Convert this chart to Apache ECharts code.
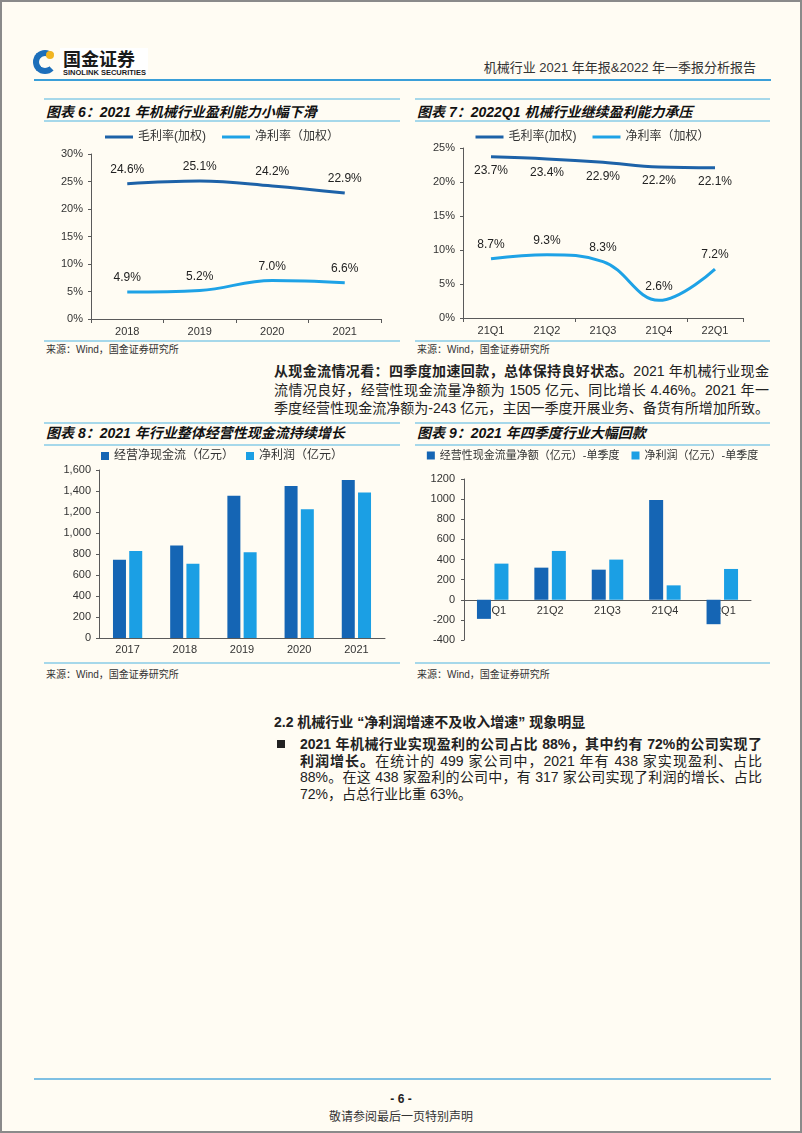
<!DOCTYPE html>
<html>
<head>
<meta charset="utf-8">
<script src="https://cdn.jsdelivr.net/npm/echarts@6/dist/echarts.min.js"></script>
<style>
  html, body { margin: 0; padding: 0; }
  body { width: 802px; height: 1133px; overflow: hidden; }
  #page {
    position: relative; width: 802px; height: 1133px; box-sizing: border-box;
    border: 2px solid #8a8a8a; background: #fffcf3;
    font-family: "Liberation Sans", "Noto Sans CJK SC", sans-serif; color: #222;
  }
  .abs { position: absolute; }
  .rule { position: absolute; height: 2px; background: #a6d8ea; }
  .ctitle { position: absolute; font-size: 14px; font-weight: bold; font-style: italic; line-height: 18px; white-space: nowrap; color: #111; }
  .src { position: absolute; font-size: 10px; line-height: 12px; color: #333; white-space: nowrap; }
  .chart { position: absolute; }
  .para { position: absolute; font-size: 14px; color: #222; }
  .para div { text-align: justify; text-align-last: justify; white-space: nowrap; }
  .para div.last { text-align-last: left; }
</style>
</head>
<body>
<div id="page">
  <!-- 页眉 -->
  <div class="abs" style="left:58px;top:46px;width:88px;height:27px;background:#fff;"></div>
  <div class="abs" style="left:31px;top:48px;width:12px;height:12px;border:6px solid #1d6fba;border-radius:50%;border-right-color:transparent;"></div>
  <div class="abs" style="left:44px;top:49px;width:8px;height:8px;background:#f2b51f;border-radius:50%;"></div>
  <div class="abs" style="left:61px;top:46px;font-size:18px;font-weight:bold;line-height:21px;color:#1a1a1a;font-family:'Noto Sans CJK SC';">国金证券</div>
  <div class="abs" style="left:61px;top:66px;font-size:7.5px;font-weight:bold;line-height:9px;color:#1a1a1a;white-space:nowrap;">SINOLINK SECURITIES</div>
  <div class="abs" style="right:44px;top:58px;font-size:13px;line-height:16px;color:#333;white-space:nowrap;">机械行业 2021 年年报&amp;2022 年一季报分析报告</div>
  <div class="abs" style="left:32px;top:77px;width:737px;height:2px;background:#3a9fd8;"></div>

  <!-- 图表6 / 图表7 -->
  <div class="rule" style="left:42px;top:96px;width:356px;"></div>
  <div class="rule" style="left:413px;top:96px;width:355px;"></div>
  <div class="ctitle" style="left:44px;top:101px;">图表 6：2021 年机械行业盈利能力小幅下滑</div>
  <div class="ctitle" style="left:415px;top:101px;">图表 7：2022Q1 机械行业继续盈利能力承压</div>
  <div class="rule" style="left:42px;top:118px;width:356px;"></div>
  <div class="rule" style="left:413px;top:118px;width:355px;"></div>
  <div id="c6" class="chart" style="left:42px;top:120px;width:356px;height:217px;"></div>
  <div id="c7" class="chart" style="left:413px;top:120px;width:355px;height:217px;"></div>
  <div class="rule" style="left:42px;top:338px;width:356px;"></div>
  <div class="rule" style="left:413px;top:338px;width:355px;"></div>
  <div class="src" style="left:44px;top:342px;">来源：Wind，国金证券研究所</div>
  <div class="src" style="left:415px;top:342px;">来源：Wind，国金证券研究所</div>

  <!-- 正文 -->
  <div class="para" style="left:272px;top:360px;width:495px;line-height:18.5px;">
    <div><b>从现金流情况看：四季度加速回款，总体保持良好状态。</b>2021 年机械行业现金</div>
    <div>流情况良好，经营性现金流量净额为 1505 亿元、同比增长 4.46%。2021 年一</div>
    <div>季度经营性现金流净额为-243 亿元，主因一季度开展业务、备货有所增加所致。</div>
  </div>

  <!-- 图表8 / 图表9 -->
  <div class="rule" style="left:42px;top:420px;width:356px;"></div>
  <div class="rule" style="left:413px;top:420px;width:355px;"></div>
  <div class="ctitle" style="left:44px;top:422px;">图表 8：2021 年行业整体经营性现金流持续增长</div>
  <div class="ctitle" style="left:415px;top:422px;">图表 9：2021 年四季度行业大幅回款</div>
  <div class="rule" style="left:42px;top:442px;width:356px;"></div>
  <div class="rule" style="left:413px;top:442px;width:355px;"></div>
  <div id="c8" class="chart" style="left:42px;top:444px;width:356px;height:216px;"></div>
  <div id="c9" class="chart" style="left:413px;top:444px;width:355px;height:216px;"></div>
  <div class="rule" style="left:42px;top:660px;width:356px;"></div>
  <div class="rule" style="left:413px;top:660px;width:355px;"></div>
  <div class="src" style="left:44px;top:667px;">来源：Wind，国金证券研究所</div>
  <div class="src" style="left:415px;top:667px;">来源：Wind，国金证券研究所</div>

  <!-- 2.2 -->
  <div class="abs" style="left:272px;top:711px;font-size:14px;font-weight:bold;line-height:18px;white-space:nowrap;">2.2 机械行业 “净利润增速不及收入增速” 现象明显</div>
  <div class="abs" style="left:275px;top:738px;width:8px;height:8px;background:#222;"></div>
  <div class="para" style="left:298px;top:734px;width:462px;line-height:16.5px;">
    <div><b>2021 年机械行业实现盈利的公司占比 88%，其中约有 72%的公司实现了</b></div>
    <div><b>利润增长。</b>在统计的 499 家公司中，2021 年有 438 家实现盈利、占比</div>
    <div>88%。在这 438 家盈利的公司中，有 317 家公司实现了利润的增长、占比</div>
    <div class="last">72%，占总行业比重 63%。</div>
  </div>

  <!-- 页脚 -->
  <div class="abs" style="left:32px;top:1076px;width:737px;height:2px;background:#7fc0e3;"></div>
  <div class="abs" style="left:0;width:798px;top:1090px;text-align:center;font-size:12px;font-weight:bold;line-height:14px;">- 6 -</div>
  <div class="abs" style="left:0;width:798px;top:1108px;text-align:center;font-size:12px;line-height:14px;color:#333;">敬请参阅最后一页特别声明</div>
</div>

<script>
// 图表6 数据
const years6 = ['2018', '2019', '2020', '2021']
const gross6 = [24.6, 25.1, 24.2, 22.9]
const net6 = [4.9, 5.2, 7.0, 6.6]
// 图表7 数据
const quarters7 = ['21Q1', '21Q2', '21Q3', '21Q4', '22Q1']
const gross7 = [23.7, 23.4, 22.9, 22.2, 22.1]
const net7 = [8.7, 9.3, 8.3, 2.6, 7.2]
// 图表8 数据（亿元）
const years8 = ['2017', '2018', '2019', '2020', '2021']
const cash8 = [746, 880, 1354, 1447, 1505]
const profit8 = [829, 707, 816, 1227, 1386]
// 图表9 数据（亿元，单季度）
const quarters9 = ['21Q1', '21Q2', '21Q3', '21Q4', '22Q1']
const cash9 = [-190, 319, 299, 991, -243]
const profit9 = [359, 485, 399, 143, 306]

const DARK = '#1565b4'
const LIGHT = '#1b9fe4'
const AXIS = '#5a5a5a'
const FONT = '"Liberation Sans", "Noto Sans CJK SC", sans-serif'
const txt = { color: '#333', fontSize: 11, fontFamily: FONT }

// 折线图：毛利率 / 净利率
function lineOption(cats, gross, net, max, grid, grossPos, tickInterval) {
  const lbl = (pos) => ({
    show: true, position: pos, distance: 8,
    formatter: p => p.value.toFixed(1) + '%',
    color: '#222', fontSize: 12, fontFamily: FONT
  })
  return {
    animation: false,
    textStyle: { fontFamily: FONT },
    legend: {
      top: 4, left: 'center', icon: 'rect', itemWidth: 28, itemHeight: 3, itemGap: 16,
      textStyle: { color: '#333', fontSize: 12, fontFamily: FONT }
    },
    grid: grid,
    xAxis: {
      type: 'category', data: cats, boundaryGap: true,
      axisLine: { lineStyle: { color: AXIS } },
      axisTick: { show: true, interval: tickInterval, length: 4, lineStyle: { color: AXIS } },
      axisLabel: Object.assign({ margin: 7 }, txt)
    },
    yAxis: {
      type: 'value', min: 0, max: max, interval: 5,
      axisLine: { show: true, lineStyle: { color: AXIS } },
      axisTick: { show: true, length: 3, lineStyle: { color: AXIS } },
      splitLine: { show: false },
      axisLabel: Object.assign({ formatter: '{value}%', margin: 8 }, txt)
    },
    series: [
      {
        name: '毛利率(加权)', type: 'line', data: gross, smooth: 0.4,
        symbol: 'circle', symbolSize: 0, showSymbol: true,
        lineStyle: { width: 3, color: '#1d62a8' }, itemStyle: { color: '#1d62a8' },
        label: lbl(grossPos)
      },
      {
        name: '净利率（加权）', type: 'line', data: net, smooth: 0.4,
        symbol: 'circle', symbolSize: 0, showSymbol: true,
        lineStyle: { width: 3, color: '#1ea2e6' }, itemStyle: { color: '#1ea2e6' },
        label: lbl('top')
      }
    ]
  }
}

// 柱状图：现金流 / 净利润
function barOption(cats, cash, profit, names, yAxis, grid, barWidth, xOffset, legendFont) {
  return {
    animation: false,
    textStyle: { fontFamily: FONT },
    legend: {
      top: 4, left: 'center', width: 420, padding: 0, icon: 'rect',
      itemWidth: 8, itemHeight: 8, itemGap: 12,
      textStyle: { color: '#333', fontSize: legendFont, fontFamily: FONT }
    },
    grid: grid,
    xAxis: {
      type: 'category', data: cats, offset: xOffset,
      axisLine: { onZero: false, lineStyle: { color: AXIS } },
      axisTick: { show: false },
      axisLabel: Object.assign({ margin: 6 }, txt)
    },
    yAxis: Object.assign({
      type: 'value',
      axisLine: { show: true, lineStyle: { color: AXIS } },
      axisTick: { show: true, length: 3, lineStyle: { color: AXIS } },
      splitLine: { show: false }
    }, yAxis),
    series: [
      { name: names[0], type: 'bar', data: cash, barWidth: barWidth, barGap: '25%', itemStyle: { color: DARK } },
      { name: names[1], type: 'bar', data: profit, barWidth: barWidth, itemStyle: { color: LIGHT } }
    ]
  }
}

const c6 = echarts.init(document.getElementById('c6'))
c6.setOption(lineOption(years6, gross6, net6, 30,
  { left: 47, right: 19, top: 32, bottom: 20 }, 'top', 0))

const c7 = echarts.init(document.getElementById('c7'))
c7.setOption(lineOption(quarters7, gross7, net7, 25,
  { left: 48, right: 27, top: 26, bottom: 21 }, 'bottom', 1))

const c8 = echarts.init(document.getElementById('c8'))
c8.setOption(barOption(years8, cash8, profit8, ['经营净现金流（亿元）', '净利润（亿元）'],
  {
    min: 0, max: 1600, interval: 200,
    axisLabel: Object.assign({ margin: 8, formatter: v => v.toLocaleString('en-US') }, txt)
  },
  { left: 55, right: 15, top: 24, bottom: 24 }, 13, 0, 12))

// 图表9：x 轴放在 0 值处，grid 高 161px 对应 1600，0 值距底 400 单位
const c9 = echarts.init(document.getElementById('c9'))
c9.setOption(barOption(quarters9, cash9, profit9, ['经营性现金流量净额（亿元）-单季度', '净利润（亿元）-单季度'],
  {
    min: -400, max: 1200, interval: 200,
    axisLabel: Object.assign({ margin: 9, formatter: v => String(v) }, txt)
  },
  { left: 49, right: 19, top: 33, bottom: 22 }, 14, -161 * 400 / 1600, 11))
</script>
</body>
</html>
